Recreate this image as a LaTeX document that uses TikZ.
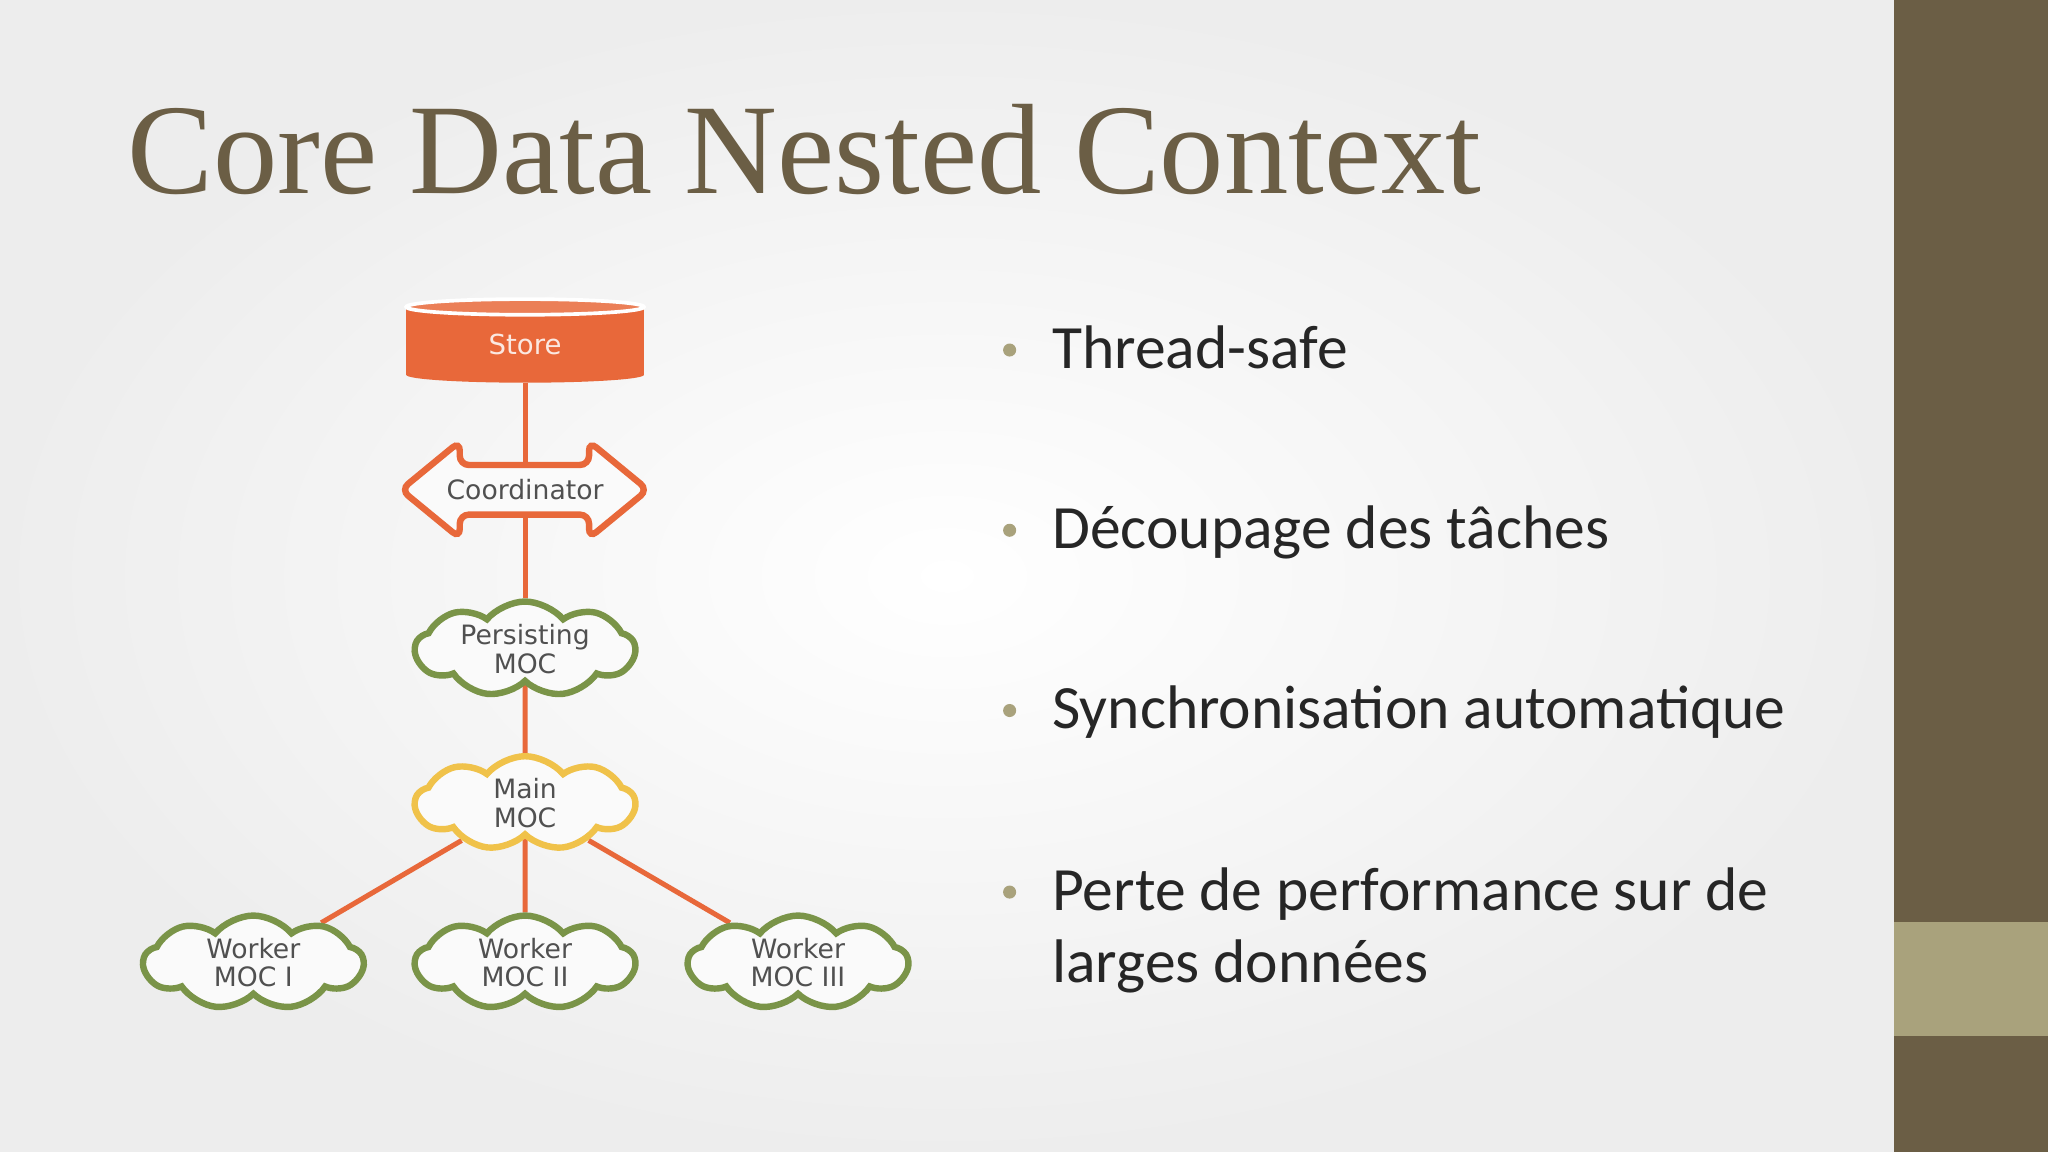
\documentclass[tikz,border=0pt]{standalone}
\usepackage{fontspec}
\setmainfont{Liberation Serif}
\newfontfamily\bul{Carlito}
\newfontfamily\dsans{DejaVu Sans}
\usetikzlibrary{shapes.symbols}
\definecolor{olive}{HTML}{6B5E45}
\definecolor{lolive}{HTML}{A9A27C}
\definecolor{orng}{HTML}{E8683A}
\definecolor{grn}{HTML}{7A9448}
\definecolor{ylw}{HTML}{F0C24A}
\definecolor{txt}{HTML}{505050}
\pgfdeclarelayer{bg}\pgfdeclarelayer{edges}
\pgfsetlayers{bg,edges,main}
\begin{document}
\begin{tikzpicture}[x=0.01cm,y=-0.01cm,
  cl/.style={cloud,cloud puffs=9,cloud puff arc=100,aspect=2.6,draw,line width=1.4pt,fill=white!96!gray,minimum width=1.68cm,minimum height=0.72cm,inner sep=0pt,align=center,text=txt,font=\dsans\fontsize{5.8}{6.2}\selectfont},
  con/.style={orng,line width=1.1pt},
  bl/.style={anchor=base west,inner sep=0,font=\bul\fontsize{13.4}{15.6}\selectfont,text=black!85,align=left}]
\begin{pgfonlayer}{bg}
\shade[inner color=white,outer color=gray!14] (0,0) rectangle (1450,882);
\fill[olive] (1450,0) rectangle (1568,882);
\fill[lolive] (1450,706) rectangle (1568,793);
\end{pgfonlayer}
\useasboundingbox (0,0) rectangle (1568,882);
\node[anchor=base west,text=olive,font=\fontsize{28}{30}\selectfont,inner sep=0] (title) at (97,148) {Core Data Nested Context};
% store
\fill[orng] (311,235) rectangle (493,287);
\fill[orng] (402,287) ellipse (91 and 6);
\fill[orng!85!white,draw=white,line width=0.8pt] (402,235) ellipse (91 and 6);
\node[text=white!85!orng,font=\dsans\fontsize{6}{7}\selectfont] (store) at (402,264) {Store};
\coordinate (storeb) at (402,293);
% coordinator
\draw[orng,line width=1.4pt,fill=white!96!gray,rounded corners=2pt] (307,375) -- (352,338) -- (352,356) -- (451,356) -- (451,338) -- (496,375) -- (451,412) -- (451,394) -- (352,394) -- (352,412) -- cycle;
\node[text=txt,font=\dsans\fontsize{5.8}{7}\selectfont] (coord) at (402,375) {Coordinator};
\coordinate (coordt) at (402,356);
\coordinate (coordb) at (402,394);
\node[cl,draw=grn] (pers) at (402,497) {Persisting\\MOC};
\node[cl,draw=ylw] (main) at (402,615) {Main\\MOC};
\node[cl,draw=grn] (w1) at (194,737) {Worker\\MOC I};
\node[cl,draw=grn] (w2) at (402,737) {Worker\\MOC II};
\node[cl,draw=grn] (w3) at (611,737) {Worker\\MOC III};
\begin{pgfonlayer}{edges}
\draw[con] (storeb) -- (coordt);
\draw[con] (coordb) -- (pers);
\draw[con] (pers) -- (main);
\draw[con] (main) -- (w1);
\draw[con] (main) -- (w2);
\draw[con] (main) -- (w3);
\end{pgfonlayer}
% bullets
\foreach \y/\t [count=\i] in {282/Thread-safe,420/Découpage des tâches,558/Synchronisation automatique}{
  \node[bl] (b\i) at (805,\y) {\t};
  \fill[lolive] (773,\y-14) circle (5);
}
\node[bl] (b4) at (805,752) {Perte de performance sur de\\larges données};
\fill[lolive] (773,683) circle (5);
\end{tikzpicture}
\end{document}
